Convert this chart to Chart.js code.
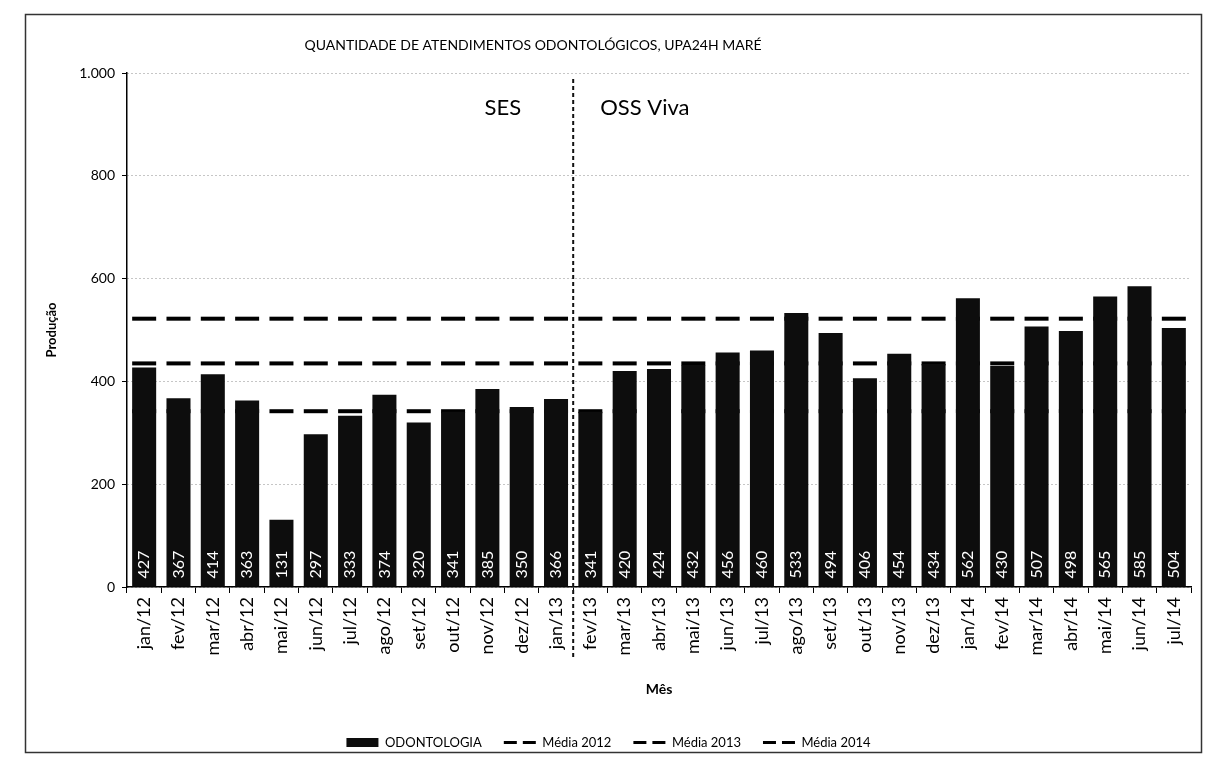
<!DOCTYPE html>
<html>
<head>
<meta charset="utf-8">
<script src="https://cdn.jsdelivr.net/npm/chart.js@4.4.0/dist/chart.umd.min.js"></script>
<style>
html,body{margin:0;padding:0;background:#fff;}
#wrap{position:relative;width:1207px;height:763px;}
canvas{display:block;}
</style>
</head>
<body>
<div id="wrap"><canvas id="c" width="1207" height="763"></canvas></div>
<script>
const categories = ['jan/12','fev/12','mar/12','abr/12','mai/12','jun/12','jul/12','ago/12','set/12','out/12','nov/12','dez/12','jan/13','fev/13','mar/13','abr/13','mai/13','jun/13','jul/13','ago/13','set/13','out/13','nov/13','dez/13','jan/14','fev/14','mar/14','abr/14','mai/14','jun/14','jul/14'];
const odontologia = [427,367,414,363,131,297,333,374,320,341,385,350,366,341,420,424,432,456,460,533,494,406,454,434,562,430,507,498,565,585,504];
const media2012 = [342,342,342,342,342,342,342,342,342,342,342,342,342,342,342,342,342,342,342,342,342,342,342,342,342,342,342,342,342,342,342];
const media2013 = [435,435,435,435,435,435,435,435,435,435,435,435,435,435,435,435,435,435,435,435,435,435,435,435,435,435,435,435,435,435,435];
const media2014 = [522,522,522,522,522,522,522,522,522,522,522,522,522,522,522,522,522,522,522,522,522,522,522,522,522,522,522,522,522,522,522];
const yTickValues = [0,200,400,600,800,1000];
const yTickLabels = ['0','200','400','600','800','1.000'];
const seriesNames = ['ODONTOLOGIA','Média 2012','Média 2013','Média 2014'];
const titleText = 'QUANTIDADE DE ATENDIMENTOS ODONTOLÓGICOS, UPA24H MARÉ';
const periodNames = ['SES','OSS Viva'];
const boundaryAfter = 'jan/13';

const FONT = 'Lato, "Open Sans", sans-serif';
Chart.defaults.font.family = FONT;
Chart.defaults.color = '#000';

const decorPlugin = {
  id: 'decor',
  beforeDraw(chart) {
    const ctx = chart.ctx;
    ctx.save();
    ctx.fillStyle = '#fff';
    ctx.fillRect(0, 0, chart.width, chart.height);
    ctx.strokeStyle = '#333';
    ctx.lineWidth = 1.5;
    ctx.strokeRect(25.5, 14.5, 1176, 738);
    ctx.fillStyle = '#000';
    ctx.font = '14px ' + FONT;
    ctx.textAlign = 'center';
    ctx.textBaseline = 'middle';
    ctx.fillText(titleText, 533, 45);
    ctx.restore();
  },
  afterDatasetsDraw(chart) {
    const ctx = chart.ctx;
    const xs = chart.scales.x;
    const area = chart.chartArea;
    const meta = chart.getDatasetMeta(0);
    ctx.save();
    ctx.fillStyle = '#fff';
    ctx.font = '16px ' + FONT;
    ctx.textAlign = 'left';
    ctx.textBaseline = 'middle';
    meta.data.forEach((bar, i) => {
      ctx.save();
      ctx.translate(bar.x, bar.base - 8);
      ctx.rotate(-Math.PI / 2);
      ctx.fillText(String(odontologia[i]), 0, 0);
      ctx.restore();
    });
    ctx.restore();
    const idx = categories.indexOf(boundaryAfter);
    const bx = (xs.getPixelForValue(idx) + xs.getPixelForValue(idx + 1)) / 2;
    ctx.save();
    ctx.strokeStyle = '#111';
    ctx.lineWidth = 2;
    ctx.setLineDash([4, 3]);
    ctx.beginPath();
    ctx.moveTo(bx, area.top + 6);
    ctx.lineTo(bx, 658);
    ctx.stroke();
    ctx.setLineDash([]);
    ctx.fillStyle = '#000';
    ctx.font = '22px ' + FONT;
    ctx.textBaseline = 'middle';
    ctx.textAlign = 'right';
    ctx.fillText(periodNames[0], bx - 52, 108);
    ctx.textAlign = 'left';
    ctx.fillText(periodNames[1], bx + 27, 108);
    ctx.restore();
  }
};

const avgDs = (label, data) => ({
  type: 'line', label, data, showLine: false,
  borderColor: '#000', backgroundColor: '#000',
  pointStyle: 'line', pointRadius: 12, pointHoverRadius: 12,
  pointBorderWidth: 4, pointBorderColor: '#000', pointBackgroundColor: '#000',
  fill: false, order: 1
});

new Chart(document.getElementById('c'), {
  type: 'bar',
  data: {
    labels: categories,
    datasets: [
      { label: seriesNames[0], data: odontologia, backgroundColor: '#0d0d0d', borderWidth: 0,
        categoryPercentage: 1.0, barPercentage: 0.7, order: 0 },
      avgDs(seriesNames[1], media2012),
      avgDs(seriesNames[2], media2013),
      avgDs(seriesNames[3], media2014)
    ]
  },
  options: {
    responsive: false,
    animation: false,
    devicePixelRatio: 1,
    events: [],
    layout: { padding: { left: 25, right: 15, top: 73, bottom: 4 } },
    plugins: {
      title: { display: false },
      tooltip: { enabled: false },
      legend: {
        position: 'bottom',
        labels: {
          usePointStyle: true,
          pointStyleWidth: 32,
          boxHeight: 9,
          color: '#000',
          font: { size: 13 },
          padding: 22,
          generateLabels(chart) {
            return chart.data.datasets.map((ds, i) => {
              const isLine = ds.type === 'line';
              return {
                text: ds.label,
                fillStyle: isLine ? 'rgba(0,0,0,0)' : ds.backgroundColor,
                strokeStyle: '#000',
                lineWidth: isLine ? 3 : 0,
                lineDash: isLine ? [13, 6] : [],
                pointStyle: isLine ? 'line' : 'rect',
                fontColor: '#000',
                hidden: false,
                datasetIndex: i
              };
            });
          }
        }
      }
    },
    scales: {
      x: {
        offset: true,
        grid: { display: true, drawOnChartArea: false, drawTicks: true, tickLength: 6, tickColor: '#000', offset: true },
        border: { display: true, color: '#000', width: 1.5 },
        ticks: { minRotation: 90, maxRotation: 90, autoSkip: false, color: '#000', font: { size: 18 }, padding: 4 },
        title: { display: true, text: 'Mês', font: { size: 14, weight: 'bold' }, padding: { top: 0, bottom: 16 } },
        afterFit(s) { s.height = 127; }
      },
      y: {
        min: 0, max: 1000,
        afterBuildTicks(s) { s.ticks = yTickValues.map(v => ({ value: v })); },
        ticks: {
          color: '#000', font: { size: 14 }, padding: 7,
          callback: (v) => yTickLabels[yTickValues.indexOf(v)]
        },
        grid: { color: '#8c8c8c', lineWidth: 1, tickColor: '#000', tickLength: 5, tickBorderDash: [] },
        border: { display: true, color: '#000', width: 1.5, dash: [1, 3] },
        title: { display: true, text: 'Produção', font: { size: 13, weight: 'bold' }, padding: { top: 19, bottom: 0 } },
        afterFit(s) { s.width = 102; }
      }
    }
  },
  plugins: [decorPlugin]
});
</script>
</body>
</html>
